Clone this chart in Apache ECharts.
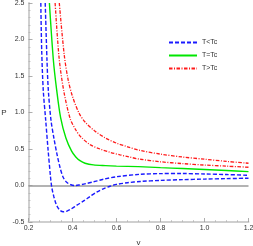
<!DOCTYPE html>
<html><head><meta charset="utf-8">
<script src="https://cdn.jsdelivr.net/npm/echarts@6/dist/echarts.min.js"></script>
<style>html,body{margin:0;padding:0;background:#fff}#c{width:253px;height:246px}</style>
</head><body><div id="c"></div>
<script>
const seriesNames = ['T<Tc', 'T=Tc', 'T>Tc'];
const xTicks = [0.2, 0.4, 0.6, 0.8, 1.0, 1.2];
const yTicks = [-0.5, 0.0, 0.5, 1.0, 1.5, 2.0, 2.5];

const blueLowV = [0.256, 0.260, 0.267, 0.278, 0.289, 0.300, 0.306, 0.315, 0.325, 0.335, 0.345, 0.358, 0.375, 0.395, 0.420, 0.449, 0.480, 0.510, 0.540, 0.570, 0.600, 0.650, 0.707, 0.800, 0.900, 1.000, 1.100, 1.200];
const blueLowP = [2.50, 1.85, 1.31, 0.90, 0.49, 0.12, -0.03, -0.15, -0.25, -0.31, -0.345, -0.36, -0.35, -0.32, -0.27, -0.215, -0.15, -0.09, -0.045, -0.01, 0.015, 0.038, 0.055, 0.07, 0.08, 0.088, 0.094, 0.10];

const blueHighV = [0.276, 0.284, 0.290, 0.302, 0.316, 0.328, 0.343, 0.358, 0.375, 0.393, 0.411, 0.430, 0.460, 0.495, 0.540, 0.600, 0.707, 0.800, 0.900, 1.000, 1.100, 1.200];
const blueHighP = [2.50, 1.72, 1.31, 0.90, 0.64, 0.45, 0.25, 0.11, 0.04, 0.01, 0.00, 0.007, 0.025, 0.05, 0.085, 0.12, 0.153, 0.163, 0.164, 0.158, 0.150, 0.140];

const greenV = [0.295, 0.313, 0.328, 0.346, 0.370, 0.396, 0.415, 0.434, 0.457, 0.495, 0.550, 0.600, 0.700, 0.800, 0.900, 1.000, 1.100, 1.200];
const greenP = [2.50, 1.72, 1.31, 0.93, 0.65, 0.47, 0.39, 0.34, 0.305, 0.282, 0.272, 0.266, 0.258, 0.245, 0.232, 0.219, 0.205, 0.190];

const redLowV = [0.321, 0.339, 0.360, 0.389, 0.415, 0.440, 0.480, 0.525, 0.570, 0.616, 0.652, 0.707, 0.800, 0.900, 1.000, 1.100, 1.200];
const redLowP = [2.50, 1.75, 1.30, 0.92, 0.76, 0.66, 0.56, 0.50, 0.455, 0.42, 0.395, 0.36, 0.325, 0.30, 0.28, 0.265, 0.25];

const redHighV = [0.340, 0.362, 0.380, 0.400, 0.430, 0.460, 0.500, 0.550, 0.600, 0.650, 0.707, 0.800, 0.900, 1.000, 1.100, 1.200];
const redHighP = [2.50, 1.80, 1.45, 1.22, 0.99, 0.86, 0.75, 0.65, 0.58, 0.53, 0.48, 0.43, 0.39, 0.36, 0.33, 0.305];

const pairs = (xs, ys) => xs.map((x, i) => [x, ys[i]]);

const blue = '#1a1aff', green = '#00e600', red = '#ff1a1a';
const dash = [4, 2];
const dotdash = [3.5, 1.5, 1, 1.5];

const chart = echarts.init(document.getElementById('c'), null, {renderer: 'canvas'});
const lineSeries = (name, data, color, type, width, extra) => Object.assign({
  name, type: 'line', data, smooth: 0.3, showSymbol: false, symbol: 'none',
  lineStyle: {color, width, type}, itemStyle: {color}, clip: true, silent: true, z: 3
}, extra || {});

chart.setOption({
  animation: false,
  grid: {left: 28.5, right: 4.5, top: 3, bottom: 24, containLabel: false, outerBoundsMode: 'none'},
  legend: {
    orient: 'vertical', left: 168, top: 39, padding: 0, itemWidth: 28, itemHeight: 8, itemGap: 6,
    data: seriesNames,
    itemStyle: {opacity: 0},
    textStyle: {fontSize: 7, color: '#333', fontFamily: 'Liberation Sans'},
    selectedMode: false
  },
  xAxis: {
    type: 'value', min: 0.2, max: 1.2, interval: 0.2,
    name: 'v', nameLocation: 'middle', nameGap: 17,
    nameTextStyle: {fontSize: 8, color: '#333', fontFamily: 'Liberation Sans'},
    axisLine: {show: true, onZero: false, lineStyle: {color: '#cfcfcf', width: 2}},
    axisTick: {show: true, inside: true, length: 4, lineStyle: {color: '#999', width: 0.8}},
    minorTick: {show: true, splitNumber: 4, length: 2, lineStyle: {color: '#aaa', width: 0.6}},
    axisLabel: {fontSize: 7, color: '#333', margin: 3, fontFamily: 'Liberation Sans',
      formatter: v => v.toFixed(1)},
    splitLine: {show: false}
  },
  yAxis: {
    type: 'value', min: -0.5, max: 2.5, interval: 0.5,
    name: 'P', nameLocation: 'middle', nameGap: 21, nameRotate: 0,
    nameTextStyle: {fontSize: 8, color: '#333', fontFamily: 'Liberation Sans'},
    axisLine: {show: true, onZero: false, lineStyle: {color: '#cfcfcf', width: 2}},
    axisTick: {show: true, inside: true, length: 4, lineStyle: {color: '#999', width: 0.8}},
    minorTick: {show: true, splitNumber: 5, length: 2, lineStyle: {color: '#aaa', width: 0.6}},
    axisLabel: {fontSize: 7, color: '#333', margin: 4, fontFamily: 'Liberation Sans',
      formatter: v => v.toFixed(1)},
    splitLine: {show: false}
  },
  series: [
    lineSeries('T<Tc', pairs(blueLowV, blueLowP), blue, dash, 1.4, {
      markLine: {silent: true, symbol: 'none', label: {show: false},
        lineStyle: {color: '#9a9a9a', width: 1.5, type: 'solid'}, data: [{yAxis: 0}], z: 1}
    }),
    lineSeries('T<Tc', pairs(blueHighV, blueHighP), blue, dash, 1.4),
    lineSeries('T=Tc', pairs(greenV, greenP), green, 'solid', 1.4),
    lineSeries('T>Tc', pairs(redLowV, redLowP), red, dotdash, 1.3),
    lineSeries('T>Tc', pairs(redHighV, redHighP), red, dotdash, 1.3)
  ]
});
</script></body></html>
